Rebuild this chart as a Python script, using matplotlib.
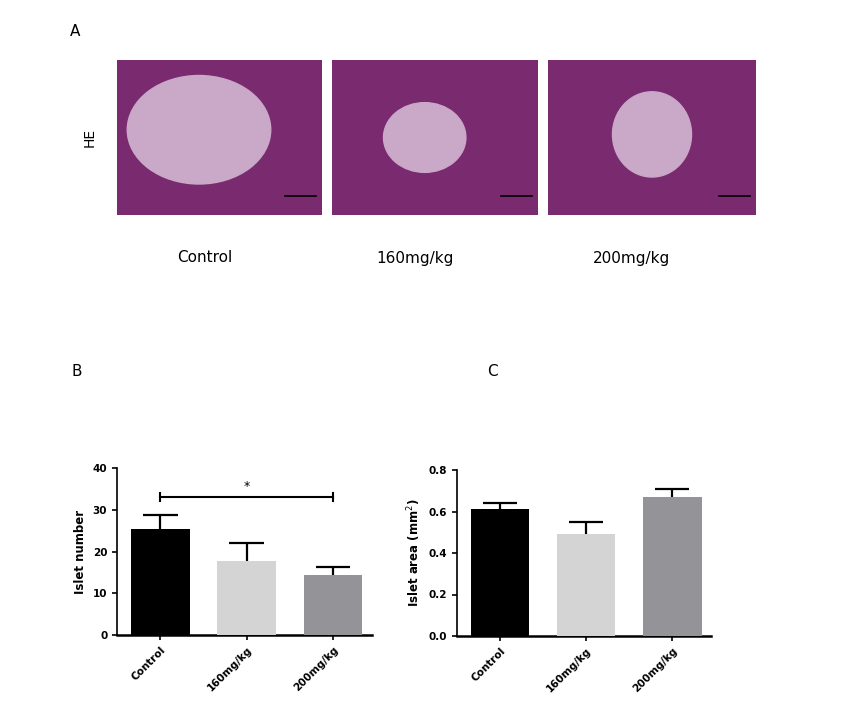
import matplotlib
matplotlib.use("Agg")
import matplotlib.pyplot as plt
import numpy as np
from matplotlib.patches import Ellipse

groups = ["Control", "160mg/kg", "200mg/kg"]
islet_number = [25.5, 17.7, 14.3]
islet_number_err = [3.3, 4.3, 2.0]
islet_area = [0.61, 0.49, 0.67]
islet_area_err = [0.03, 0.06, 0.04]
colors = ["#000000", "#d4d4d4", "#939398"]

W, H = 853, 716
fig = plt.figure(figsize=(W/100, H/100), dpi=100)

def ax_px(x0, y0, x1, y1):
    return fig.add_axes([x0/W, 1-y1/H, (x1-x0)/W, (y1-y0)/H])

fig.text(70/W, 1-32/H, "A", fontsize=11, va="center")
fig.text(90/W, 1-137/H, "HE", fontsize=10, rotation=90, va="center", ha="center")
# histology panels (schematic placeholders)
panels = [(117, 322, 0.40, 0.55, 0.70, 0.70), (332, 538, 0.45, 0.50, 0.40, 0.45), (548, 756, 0.50, 0.52, 0.38, 0.55)]
for (x0, x1, cx, cy, w, h) in panels:
    a = ax_px(x0, 60, x1, 215)
    a.set_facecolor("#7a2a6e")
    a.add_patch(Ellipse((cx, cy), w, h, color="#c9a8c8"))
    a.plot([0.82, 0.97], [0.12, 0.12], color="black", lw=1.2)
    a.set_xlim(0, 1); a.set_ylim(0, 1)
    a.set_xticks([]); a.set_yticks([])
    for s in a.spines.values():
        s.set_visible(False)
for x, lab in zip([205, 415, 632], ["Control", "160mg/kg", "200mg/kg"]):
    fig.text(x/W, 1-258/H, lab, fontsize=11, ha="center", va="center")

fig.text(72/W, 1-372/H, "B", fontsize=11, va="center")
fig.text(487/W, 1-372/H, "C", fontsize=11, va="center")

def barplot(ax, vals, errs, ylim, ticks, ylabel, fmt):
    x = np.arange(len(vals))
    v = np.array(vals); e = np.array(errs)
    ax.bar(x, v, width=0.68, color=colors, zorder=3)
    ax.vlines(x, v, v + e, color="black", lw=1.6, zorder=2)
    ax.hlines(v + e, x - 0.2, x + 0.2, color="black", lw=1.6, zorder=2)
    ax.set_xlim(-0.5, 2.45)
    ax.set_ylim(*ylim)
    ax.set_yticks(ticks)
    ax.set_yticklabels([fmt.format(t) for t in ticks], fontsize=7.5, fontweight="bold")
    ax.set_xticks(list(x))
    ax.set_xticklabels(groups, rotation=45, ha="right", rotation_mode="anchor", fontsize=7.5, fontweight="bold")
    ax.set_ylabel(ylabel, fontsize=8.5, fontweight="bold")
    for s in ["top", "right"]:
        ax.spines[s].set_visible(False)
    ax.spines["left"].set_linewidth(1.2)
    ax.spines["bottom"].set_linewidth(1.8)
    ax.tick_params(width=1.2)

axB = ax_px(117, 468, 372, 635)
barplot(axB, islet_number, islet_number_err, (0, 40), [0, 10, 20, 30, 40], "Islet number", "{:g}")
axB.plot([0, 2], [33, 33], color="black", lw=1.5)
axB.plot([0, 0], [32, 34], color="black", lw=1.5)
axB.plot([2, 2], [32, 34], color="black", lw=1.5)
axB.text(1, 35.5, "*", ha="center", va="center", fontsize=9)

axC = ax_px(457, 470, 711, 636)
barplot(axC, islet_area, islet_area_err, (0, 0.8), [0.0, 0.2, 0.4, 0.6, 0.8], "Islet area (mm$^2$)", "{:.1f}")

fig.savefig("out.png", dpi=100)
